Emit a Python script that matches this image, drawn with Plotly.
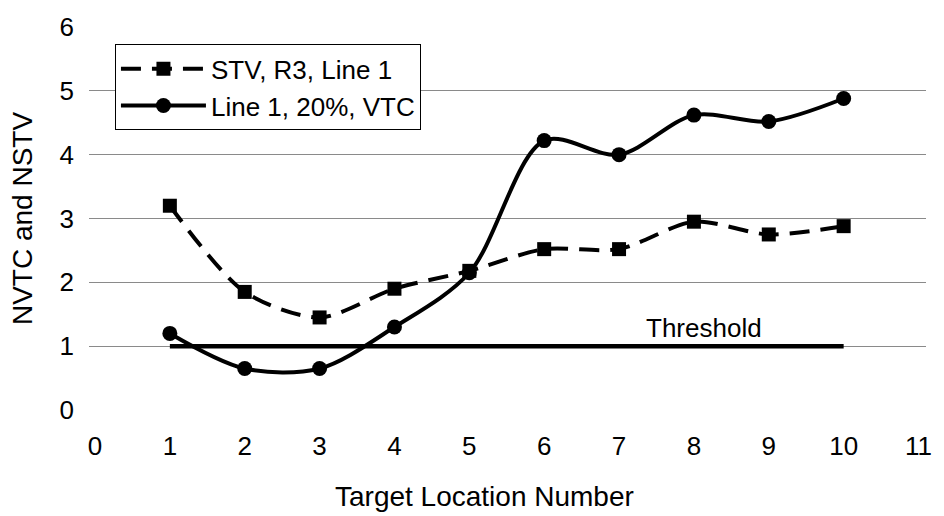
import plotly.graph_objects as go

# Target locations along the line
locations = [1, 2, 3, 4, 5, 6, 7, 8, 9, 10]

# Normalised values per target location
stv_r3_line1 = [3.2, 1.85, 1.45, 1.9, 2.18, 2.52, 2.52, 2.95, 2.75, 2.88]
vtc_line1_20 = [1.2, 0.65, 0.65, 1.3, 2.15, 4.22, 4.0, 4.62, 4.52, 4.88]

threshold_x = [1, 10]
threshold_y = [1, 1]

x_ticks = list(range(0, 12))
y_ticks = list(range(0, 7))

FONT = "Liberation Sans, Arial, sans-serif"

fig = go.Figure()

fig.add_trace(go.Scatter(
    x=locations, y=stv_r3_line1, name="STV, R3, Line 1",
    mode="lines+markers", legendgroup="a",
    line=dict(color="black", width=4, dash="20px,11px", shape="spline", smoothing=0.8),
    marker=dict(symbol="square", size=14, color="black"),
))

fig.add_trace(go.Scatter(
    x=locations, y=vtc_line1_20, name="Line 1, 20%, VTC",
    mode="lines+markers", legendgroup="b",
    line=dict(color="black", width=4, shape="spline", smoothing=0.9),
    marker=dict(symbol="circle", size=15, color="black"),
))

fig.add_trace(go.Scatter(
    x=threshold_x, y=threshold_y, name="Threshold",
    mode="lines", showlegend=False,
    line=dict(color="black", width=4.5),
))

fig.add_annotation(
    x=8.14, y=1.28, text="Threshold", showarrow=False,
    font=dict(family=FONT, size=26, color="black"),
)

# x-axis title, placed a little left of the plot centre
fig.add_annotation(
    xref="paper", yref="paper", x=0.473, y=-0.226,
    xanchor="center", yanchor="middle", showarrow=False,
    text="Target Location Number",
    font=dict(family=FONT, size=28, color="black"),
)

fig.update_layout(
    width=944, height=516,
    margin=dict(l=89, r=12, t=25, b=106),
    paper_bgcolor="white", plot_bgcolor="white",
    font=dict(family=FONT, size=26, color="black"),
    showlegend=True,
    legend=dict(
        x=0.031, y=0.955, xanchor="left", yanchor="top",
        bgcolor="white", bordercolor="black", borderwidth=1,
        font=dict(family=FONT, size=26, color="black"),
        traceorder="grouped", tracegroupgap=0, itemwidth=85,
    ),
)

fig.update_xaxes(
    range=[-0.08, 11.1], tickmode="array", tickvals=x_ticks,
    showgrid=False, zeroline=False, showline=False,
    ticks="", ticklabelstandoff=18,
    tickfont=dict(family=FONT, size=26),
)

fig.update_yaxes(
    range=[0, 6], tickmode="array", tickvals=y_ticks,
    showgrid=True, gridcolor="#8a8a8a", gridwidth=1,
    zeroline=False, showline=False, ticks="", ticklabelstandoff=14,
    tickfont=dict(family=FONT, size=26),
    title=dict(text="NVTC and NSTV", font=dict(family=FONT, size=28), standoff=18),
)

fig.write_html("out.html")
